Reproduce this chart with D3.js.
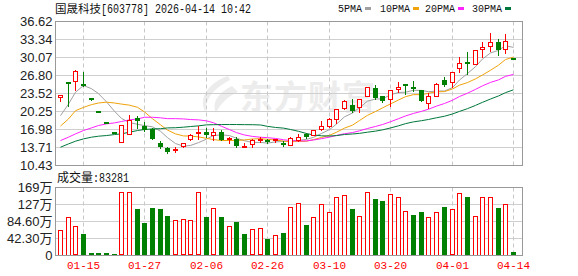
<!DOCTYPE html>
<html>
<head>
<meta charset="utf-8">
<script src="https://cdn.jsdelivr.net/npm/d3@7"></script>
<style>
  body { margin: 0; background: #fff; }
  svg { display: block; }
</style>
</head>
<body>
<div id="chart"></div>
<script>
// trading days shown on the chart
const dates = ["01-12","01-13","01-14","01-15","01-16","01-19","01-20","01-21","01-22","01-23",
  "01-26","01-27","01-28","01-29","01-30","02-02","02-03","02-04","02-05","02-06",
  "02-09","02-10","02-11","02-12","02-13","02-24","02-25","02-26","02-27","03-02",
  "03-03","03-04","03-05","03-06","03-09","03-10","03-11","03-12","03-13","03-16",
  "03-17","03-18","03-19","03-20","03-23","03-24","03-25","03-26","03-27","03-30",
  "03-31","04-01","04-02","04-03","04-07","04-08","04-09","04-10","04-13","04-14"];

const open = [22.95,25.70,25.75,25.10,22.45,20.20,18.18,16.37,14.67,16.18,
  19.03,17.70,17.09,14.55,13.70,13.03,13.94,15.27,16.10,16.61,
  16.00,16.61,15.09,15.27,13.80,14.42,15.00,15.09,15.00,14.61,
  14.24,15.09,16.18,16.00,17.03,17.64,18.91,20.85,21.52,21.16,
  23.16,24.55,22.98,22.55,24.37,25.10,24.55,24.25,21.83,23.04,
  26.01,25.58,28.19,29.16,28.92,31.65,32.13,32.98,31.65,29.86];
const high = [23.28,25.70,27.72,27.40,22.47,20.22,18.20,16.39,17.82,19.64,
  19.40,18.43,17.27,14.97,13.88,13.88,14.61,16.18,17.64,17.27,
  17.27,16.91,15.58,15.58,14.48,15.33,15.54,15.27,15.33,14.97,
  15.58,16.18,16.30,16.97,18.61,19.09,20.73,22.35,22.55,22.55,
  24.79,25.16,23.16,24.19,25.70,25.34,25.88,24.25,23.58,25.40,
  26.61,27.52,30.13,31.04,31.47,32.86,34.50,33.35,34.27,29.86];
const low = [22.19,21.34,24.20,24.93,22.41,20.16,18.14,16.33,14.67,16.18,
  17.30,16.79,15.27,13.63,12.67,12.97,13.88,15.15,15.27,15.70,
  15.09,15.09,14.48,13.88,13.80,13.88,14.73,14.60,14.73,13.94,
  14.18,14.97,15.45,15.90,16.90,17.50,18.18,20.70,20.12,20.12,
  22.98,22.55,21.95,21.34,23.88,23.40,24.06,22.07,20.92,22.98,
  24.92,24.79,27.40,27.10,28.80,30.25,31.22,30.49,30.98,29.84];
const close = [23.25,25.29,27.70,24.93,22.43,20.18,18.16,16.35,17.82,18.70,
  18.55,16.91,15.27,13.76,12.85,13.33,14.49,15.99,16.30,16.06,
  16.49,15.15,15.33,13.94,13.85,15.03,15.15,14.67,15.05,14.12,
  15.39,15.70,15.58,16.97,17.64,18.91,20.73,22.17,20.43,22.55,
  24.79,22.67,22.25,24.19,24.67,25.00,24.45,22.13,22.98,25.28,
  25.04,27.52,29.10,28.86,31.47,32.07,32.98,31.47,33.16,29.84];

// moving averages as drawn
const ma5 = [19.50,21.60,23.76,24.98,24.40,23.50,22.00,20.30,18.99,18.23,
  17.93,17.68,17.47,16.66,15.50,14.42,13.94,14.08,14.59,15.23,
  15.87,16.00,15.87,15.39,14.93,14.63,14.63,14.50,14.72,14.80,
  14.88,14.99,15.17,15.55,16.26,16.96,17.97,19.28,19.98,20.96,
  22.13,22.52,22.54,23.29,23.71,23.76,24.11,24.09,23.85,23.97,
  23.98,24.59,25.98,27.16,28.40,29.80,30.90,31.37,32.23,31.90];
const ma10 = [17.60,18.90,20.40,21.00,21.50,21.80,21.95,21.80,21.60,21.40,
  21.01,20.17,18.94,17.83,16.87,16.18,15.81,15.78,15.63,15.37,
  15.15,14.97,14.98,14.99,15.08,15.25,15.32,15.19,15.06,14.87,
  14.76,14.81,14.84,15.14,15.53,15.92,16.48,17.23,17.77,18.61,
  19.55,20.25,20.91,21.64,22.34,22.95,23.32,23.32,23.57,23.84,
  23.87,24.35,25.04,25.51,26.19,26.89,27.75,28.68,29.70,30.15];
const ma20 = [14.97,15.58,16.18,16.79,17.27,17.70,18.00,18.18,18.43,18.73,
  18.90,19.20,19.20,19.10,18.95,18.95,18.90,18.79,18.73,18.55,
  18.20,17.57,16.96,16.41,15.98,15.72,15.57,15.49,15.35,15.12,
  14.96,14.89,14.91,15.07,15.31,15.59,15.90,16.21,16.42,16.74,
  17.16,17.53,17.88,18.39,18.94,19.44,19.90,20.28,20.67,21.23,
  21.71,22.30,22.98,23.58,24.27,24.92,25.54,26.00,26.64,27.00];
const ma30 = [13.76,14.36,14.85,15.27,15.58,15.76,15.88,16.06,16.18,16.49,
  16.79,16.97,17.09,17.12,17.27,17.30,17.40,17.52,17.64,17.82,
  17.85,17.88,17.88,17.88,17.86,17.85,17.80,17.55,17.35,17.23,
  16.98,16.65,16.25,15.99,15.83,15.79,15.87,16.07,16.16,16.28,
  16.49,16.68,16.91,17.26,17.65,18.04,18.37,18.58,18.80,19.11,
  19.39,19.80,20.27,20.77,21.36,21.92,22.52,23.08,23.68,24.20];

// volume in 万 shares
const volume = [63.9,97.0,72.2,54.7,5.0,5.0,5.0,2.5,156.8,159.2,
  115.3,82.1,117.0,115.3,99.5,87.1,89.6,87.1,156.8,94.6,
  117.0,94.6,74.6,84.6,52.3,64.7,67.2,42.3,49.8,57.2,
  121.9,131.0,77.1,97.0,128.6,108.7,146.0,151.0,114.5,98.7,
  158.4,141.8,134.4,153.4,146.0,111.1,102.0,107.0,96.2,108.7,
  121.9,114.5,155.9,146.8,98.7,146.0,146.0,119.4,128.6,8.33];

const priceTicks = [10.43,13.71,16.98,20.25,23.52,26.80,30.07,33.34,36.62];
const volTicks = [0,42.3,84.6,126.9,169.2];
const volTickLabels = ["0","42.30万","84.60万","127万","169万"];
const dateTicks = ["01-15","01-27","02-06","02-26","03-10","03-20","04-01","04-14"];

const maNames = ["5PMA","10PMA","20PMA","30PMA"];
const maColors = ["#a0a0a0","#f0a30a","#ff22ff","#00773a"];

const title = "国晟科技";
const titleRest = "[603778] 2026-04-14 10:42";
const lastVolume = "83281";

const width = 578, height = 276;
const left = 55.5, right = 522.5;
const pTop = 21.5, pBot = 165.5, vTop = 187.5, vBot = 255.5;
const RED = "#ff0000", GREEN = "#008000";
const numFont = "'Liberation Sans', Arial, sans-serif";
const monoFont = "'Liberation Mono', 'DejaVu Sans Mono', monospace";
const cjkFont = "'Noto Sans CJK SC', sans-serif";

const svg = d3.select("#chart").append("svg")
  .attr("width", width).attr("height", height);

let x = d3.scaleBand().domain(dates).range([56.5, 517.3]);
let cx = d => Math.floor(x(d) + x.bandwidth() / 2) + 0.5;

let y = d3.scaleLinear().domain([10.43, 36.62]).range([pBot, pTop]);
let yv = d3.scaleLinear().domain([0, 169.2]).range([vBot, vTop]);

let rows = dates.map((d, i) => ({
  date: d, o: open[i], h: high[i], l: low[i], c: close[i], v: volume[i],
  up: close[i] > open[i],
  volUp: i == 0 ? close[i] >= open[i] : close[i] >= close[i - 1]
}));

// watermark
let wm = svg.append("g").attr("fill", "#ececec");
wm.append("path")
  .attr("d", "M228,76 C206,84 198,100 206,113 C204,100 214,88 230,80 Z M232,86 C216,94 212,104 216,113 C220,104 228,96 238,92 Z");
wm.append("text")
  .attr("x", 240).attr("y", 109)
  .attr("font-family", cjkFont).attr("font-size", 33).attr("font-weight", "bold")
  .attr("letter-spacing", 1)
  .text("东方财富");

// horizontal grid
svg.append("g").selectAll("line")
  .data(priceTicks.slice(1, -1))
  .join("line")
  .attr("x1", left).attr("x2", right)
  .attr("y1", d => Math.round(y(d) - 0.5) + 0.5).attr("y2", d => Math.round(y(d) - 0.5) + 0.5)
  .attr("stroke", "#cfcfcf");

svg.append("g").selectAll("line")
  .data(volTicks.slice(1, -1))
  .join("line")
  .attr("x1", left).attr("x2", right)
  .attr("y1", d => Math.round(yv(d) - 0.5) + 0.5).attr("y2", d => Math.round(yv(d) - 0.5) + 0.5)
  .attr("stroke", "#cfcfcf");

// vertical dashed grid in both panels
[[pTop, pBot], [vTop, vBot]].forEach(([t, b]) => {
  svg.append("g").selectAll("line")
    .data(dateTicks)
    .join("line")
    .attr("x1", cx).attr("x2", cx)
    .attr("y1", t).attr("y2", b)
    .attr("stroke", "#c8c8c8")
    .attr("stroke-dasharray", "4,3");
});

// moving average lines
let maData = [ma5, ma10, ma20, ma30];
maData.forEach((arr, k) => {
  let line = d3.line()
    .x((v, i) => cx(dates[i]))
    .y(v => y(v));
  svg.append("path")
    .datum(arr)
    .attr("d", line)
    .attr("fill", "none")
    .attr("stroke", maColors[k])
    .attr("stroke-width", 1);
});

// candles
let candle = svg.append("g").selectAll("g")
  .data(rows)
  .join("g");

candle.append("line")
  .attr("x1", d => cx(d.date)).attr("x2", d => cx(d.date))
  .attr("y1", d => Math.round(y(d.h))).attr("y2", d => Math.round(y(d.l)) + 1)
  .attr("stroke", d => d.up ? RED : GREEN)
  .attr("shape-rendering", "crispEdges");

candle.each(function(d) {
  let g = d3.select(this);
  let top = Math.round(y(Math.max(d.o, d.c)));
  let bot = Math.round(y(Math.min(d.o, d.c)));
  let c = cx(d.date);
  if (d.up) {
    let hgt = Math.max(bot - top, 1);
    if (bot - top < 2) {
      g.append("rect")
        .attr("x", c - 2.5).attr("y", top - 1).attr("width", 5).attr("height", 2)
        .attr("fill", RED).attr("shape-rendering", "crispEdges");
    } else {
      g.append("rect")
        .attr("x", c - 2).attr("y", top + 0.5).attr("width", 4).attr("height", hgt)
        .attr("fill", "#fff").attr("stroke", RED)
        .attr("shape-rendering", "crispEdges");
    }
  } else {
    g.append("rect")
      .attr("x", c - 2.5).attr("y", top - (bot - top < 2 ? 1 : 0))
      .attr("width", 5).attr("height", Math.max(bot - top, 2))
      .attr("fill", GREEN).attr("shape-rendering", "crispEdges");
  }
});

// volume bars
svg.append("g").selectAll("rect")
  .data(rows)
  .join("rect")
  .attr("x", d => d.volUp ? cx(d.date) - 2 : cx(d.date) - 2.5)
  .attr("y", d => d.volUp ? Math.round(yv(d.v)) + 0.5 : Math.round(yv(d.v)))
  .attr("width", d => d.volUp ? 4 : 5)
  .attr("height", d => Math.max(Math.round(vBot - yv(d.v)) - (d.volUp ? 1 : 0), 1))
  .attr("fill", d => d.volUp ? "#fff" : GREEN)
  .attr("stroke", d => d.volUp ? RED : "none")
  .attr("shape-rendering", "crispEdges");

// frames
[[pTop, pBot], [vTop, vBot]].forEach(([t, b]) => {
  svg.append("rect")
    .attr("x", left).attr("y", t)
    .attr("width", right - left).attr("height", b - t)
    .attr("fill", "none").attr("stroke", "#999");
});

// axes
let yAxis = d3.axisLeft(y).tickValues(priceTicks)
  .tickFormat(d3.format(".2f")).tickSize(0).tickPadding(3);
let ga = svg.append("g").attr("transform", `translate(${left},0)`).call(yAxis);
ga.select(".domain").remove();
ga.selectAll("text").attr("font-family", numFont).attr("font-size", 13).attr("fill", "#222");

let vAxis = d3.axisLeft(yv).tickValues(volTicks)
  .tickFormat((d, i) => volTickLabels[i]).tickSize(0).tickPadding(3);
let gv = svg.append("g").attr("transform", `translate(${left},0)`).call(vAxis);
gv.select(".domain").remove();
gv.selectAll("text").attr("font-family", numFont + ", " + cjkFont).attr("font-size", 13).attr("fill", "#222");

let xAxis = d3.axisBottom(x).tickValues(dateTicks).tickSize(0).tickPadding(0);
let gx = svg.append("g").attr("transform", `translate(0,${vBot + 4})`).call(xAxis);
gx.select(".domain").remove();
gx.selectAll(".tick").attr("transform", d => `translate(${cx(d)},0)`);
gx.selectAll("text")
  .attr("font-family", monoFont).attr("font-size", 11)
  .attr("fill", RED).attr("dy", "0.85em");

// title
let t = svg.append("text").attr("x", 55).attr("y", 12.5).attr("fill", "#111").attr("font-size", 11.5);
t.append("tspan").attr("font-family", cjkFont).text(title);
t.append("tspan").attr("font-family", monoFont).attr("font-size", 12).attr("textLength", 150).attr("lengthAdjust", "spacingAndGlyphs").text(titleRest);

// legend
let legX = [338, 380, 425, 472];
let legW = [24, 30, 30, 30];
maNames.forEach((n, k) => {
  svg.append("text")
    .attr("x", legX[k]).attr("y", 12)
    .attr("font-family", monoFont).attr("font-size", 11).attr("fill", "#111")
    .attr("textLength", legW[k]).attr("lengthAdjust", "spacingAndGlyphs")
    .text(n);
  svg.append("rect")
    .attr("x", legX[k] + legW[k] + 3).attr("y", 7)
    .attr("width", 6).attr("height", 3)
    .attr("fill", maColors[k]);
});

// volume title
let vt = svg.append("text").attr("x", 57).attr("y", 182).attr("fill", "#111").attr("font-size", 12);
vt.append("tspan").attr("font-family", cjkFont).text("成交量");
vt.append("tspan").attr("font-family", monoFont).attr("textLength", 36).attr("lengthAdjust", "spacingAndGlyphs").text(":" + lastVolume);
</script>
</body>
</html>
